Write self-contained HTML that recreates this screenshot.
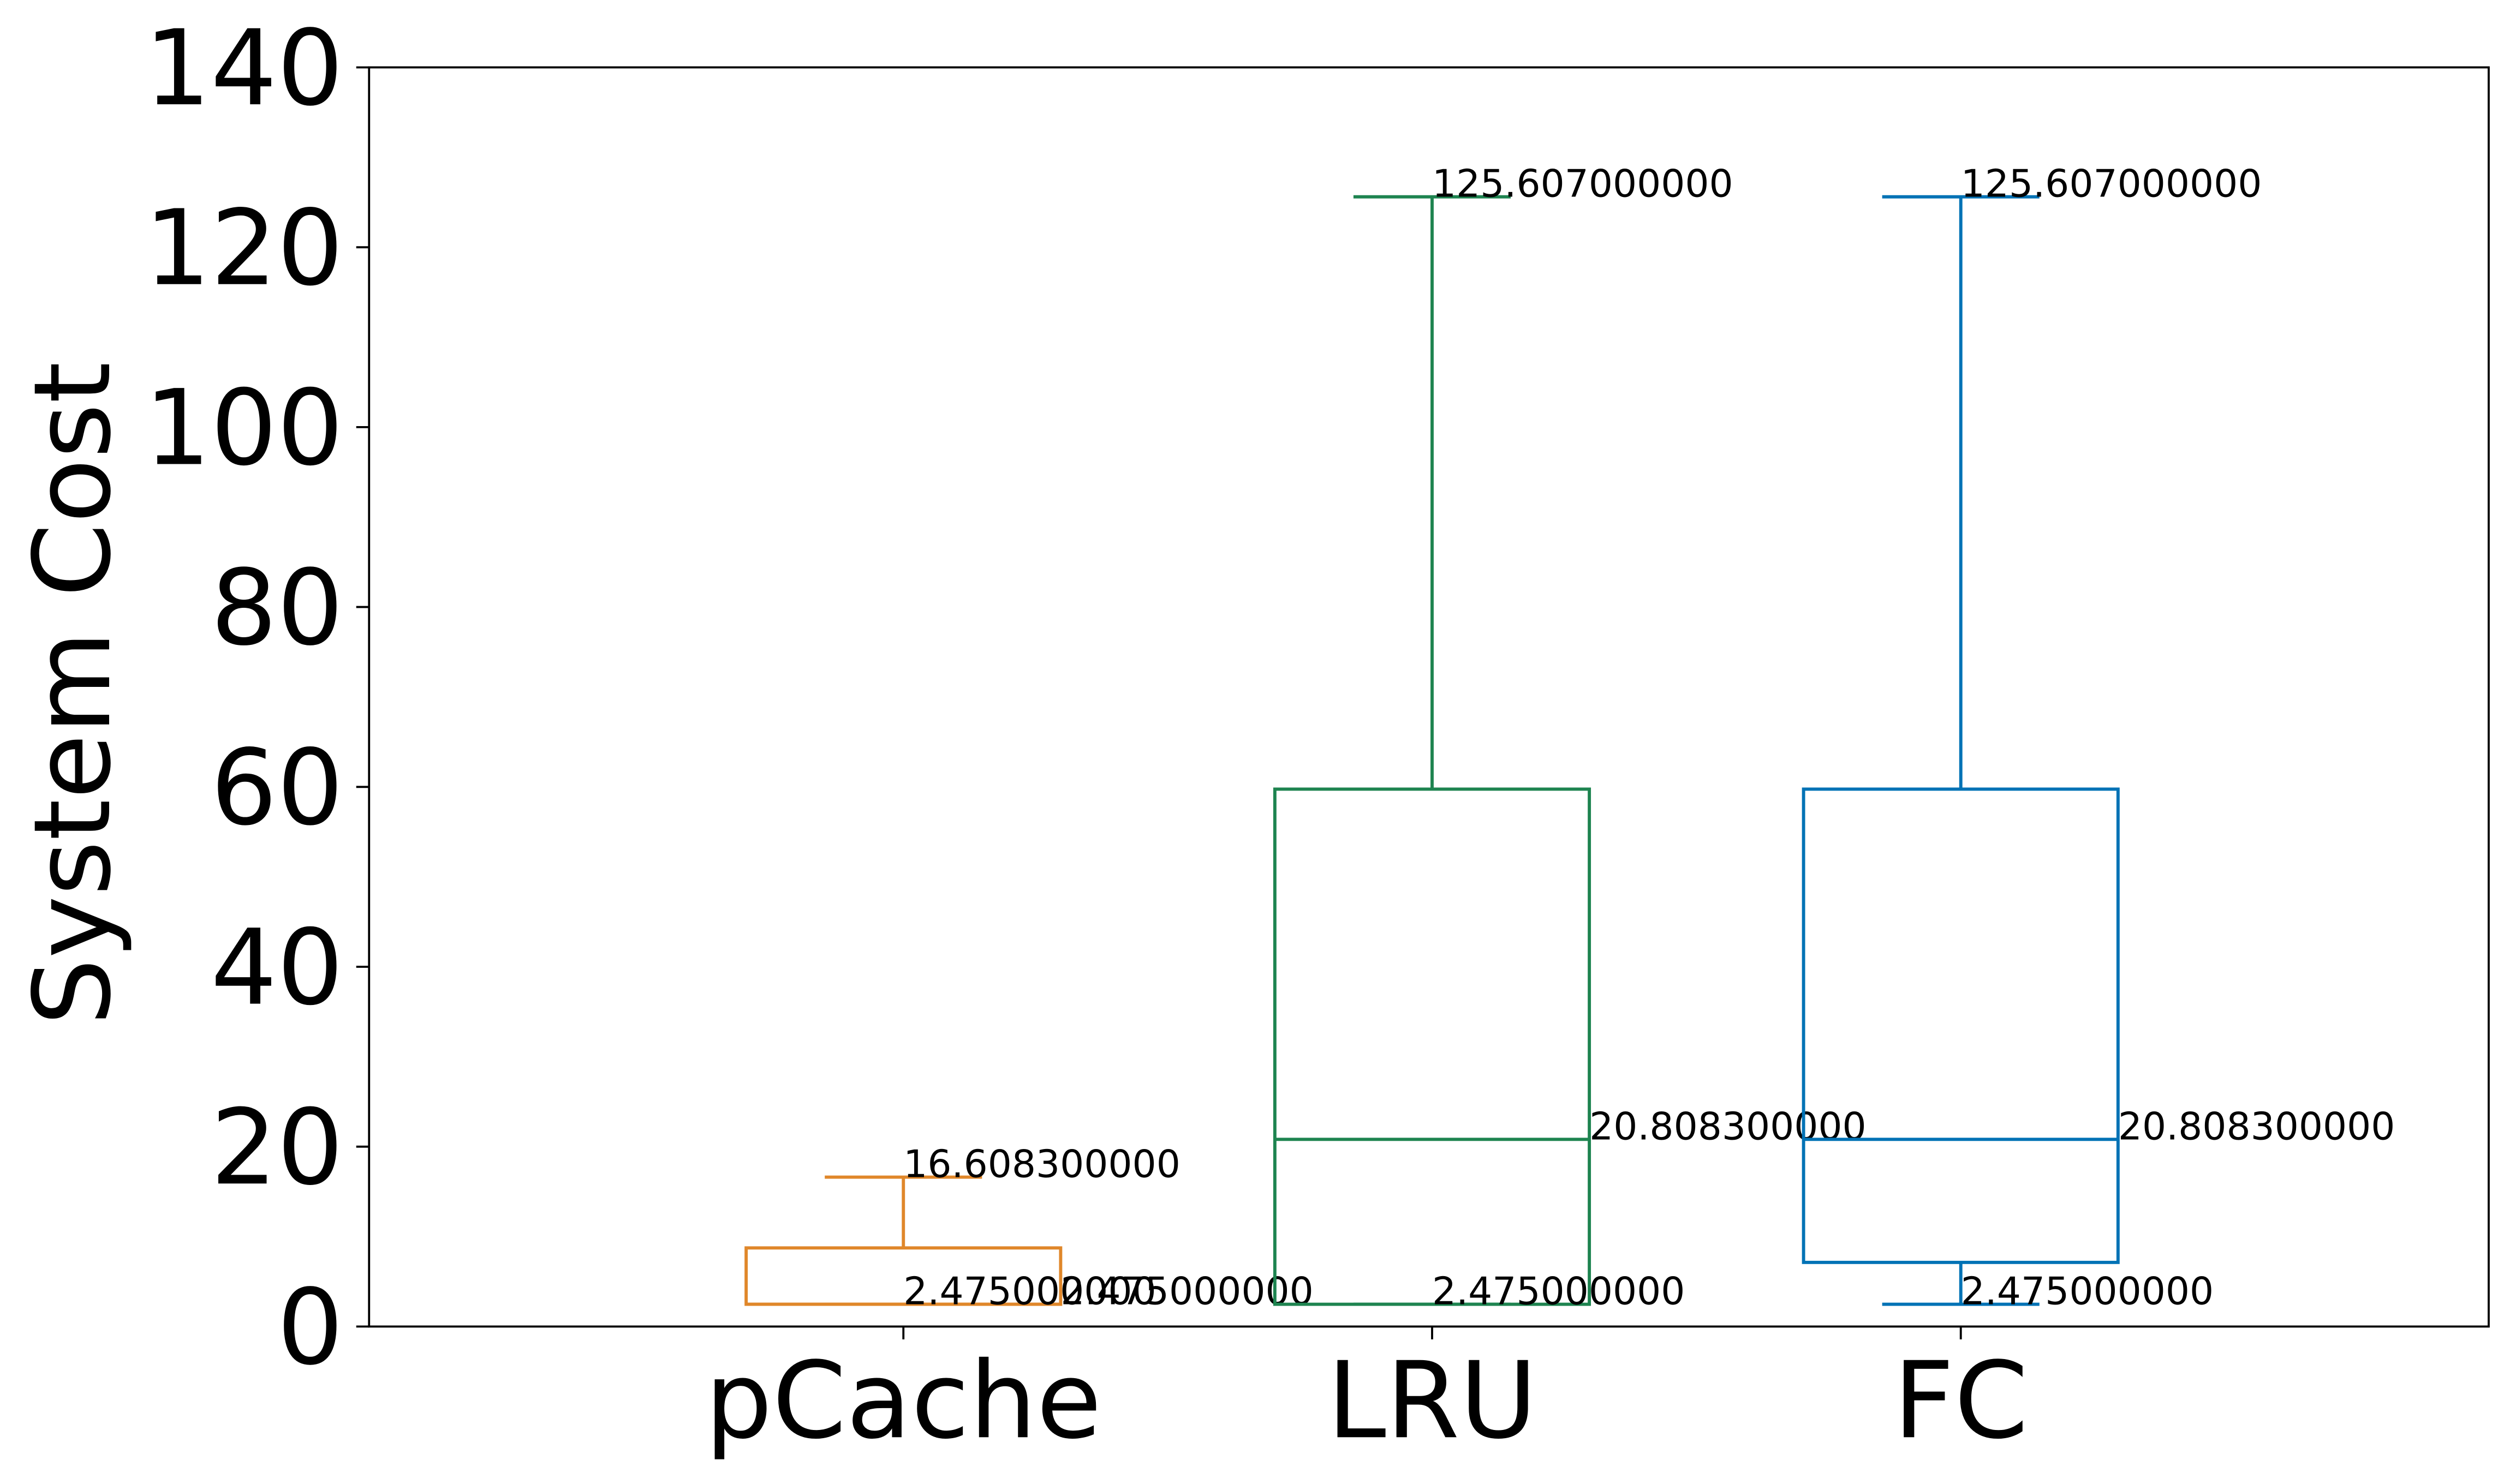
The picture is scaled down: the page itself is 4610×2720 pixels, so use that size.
<!DOCTYPE html>
<html><head><meta charset="utf-8">
<style>html,body{margin:0;padding:0;background:#fff;}svg{display:block;}</style>
</head><body>
<svg id="chart" width="4610" height="2720" viewBox="0 0 1568 925.17" xmlns="http://www.w3.org/2000/svg" font-family="'DejaVu Sans','Liberation Sans',sans-serif">
<rect width="1568" height="925.17" fill="#fff"/>
<g id="plot"></g>
</svg>
<script>
const categories = ["pCache", "LRU", "FC"];
const whiskerLow = [2.475, 2.475, 2.475];
const q1Values = [2.475, 2.475, 7.13];
const medianValues = [2.475, 20.8083, 20.8083];
const q3Values = [8.74, 59.75, 59.75];
const whiskerHigh = [16.6083, 125.607, 125.607];
const lowLabels = ["2.475000000", "2.475000000", "2.475000000"];
const medianLabels = ["2.475000000", "20.808300000", "20.808300000"];
const highLabels = ["16.608300000", "125.607000000", "125.607000000"];
const colors = ["#E0872A", "#1E8450", "#0072B5"];
const yTicks = [0, 20, 40, 60, 80, 100, 120, 140];

const NS = "http://www.w3.org/2000/svg";
const L = 230, R = 1551, T = 42, B = 827;
const yMin = 0, yMax = 140;
const y = v => B - (v - yMin) / (yMax - yMin) * (B - T);
const cx = i => 563 + i * 329.5;
const boxW = 196;
const g = document.getElementById("plot");

function mk(tag, attrs) {
  const e = document.createElementNS(NS, tag);
  for (const k in attrs) e.setAttribute(k, attrs[k]);
  g.appendChild(e);
  return e;
}

categories.forEach((c, i) => {
  const col = colors[i], xc = cx(i);
  const st = {stroke: col, "stroke-width": 2, fill: "none"};
  const box = mk("rect", Object.assign({x: xc - boxW / 2, y: y(q3Values[i]), width: boxW, height: y(q1Values[i]) - y(q3Values[i])}, st));
  
  
  const med = mk("line", Object.assign({x1: xc - boxW / 2, x2: xc + boxW / 2, y1: y(medianValues[i]), y2: y(medianValues[i])}, st));
  
  
  const wu = mk("line", Object.assign({x1: xc, x2: xc, y1: y(q3Values[i]), y2: y(whiskerHigh[i])}, st));
  
  
  const wl = mk("line", Object.assign({x1: xc, x2: xc, y1: y(q1Values[i]), y2: y(whiskerLow[i])}, st));
  
  
  const cu = mk("line", Object.assign({x1: xc - boxW / 4, x2: xc + boxW / 4, y1: y(whiskerHigh[i]), y2: y(whiskerHigh[i])}, st));
  
  
  const cl = mk("line", Object.assign({x1: xc - boxW / 4, x2: xc + boxW / 4, y1: y(whiskerLow[i]), y2: y(whiskerLow[i])}, st));
  
  
  const tH = mk("text", {x: xc, y: y(whiskerHigh[i]), "font-size": 23.6, fill: "#000"});
  tH.textContent = highLabels[i];
  
  
  const tM = mk("text", {x: xc + boxW / 2, y: y(medianValues[i]), "font-size": 23.6, fill: "#000"});
  tM.textContent = medianLabels[i];
  
  
  const tL = mk("text", {x: xc, y: y(whiskerLow[i]), "font-size": 23.6, fill: "#000"});
  tL.textContent = lowLabels[i];
  
  
  const tk = mk("line", {x1: xc, x2: xc, y1: B, y2: B + 8, stroke: "#000", "stroke-width": 1.3});
  
  
  const xl = mk("text", {x: xc, y: B + 69, "font-size": 66, "text-anchor": "middle", fill: "#000"});
  xl.textContent = c;
  
  
});

yTicks.forEach(v => {
  const tk = mk("line", {x1: L - 8, x2: L, y1: y(v), y2: y(v), stroke: "#000", "stroke-width": 1.3});
  
  
  const t = mk("text", {x: L - 16, y: y(v) + 23, "font-size": 65, "text-anchor": "end", fill: "#000"});
  t.textContent = String(v);
  
  
});

const frame = mk("rect", {x: L, y: T, width: R - L, height: B - T, fill: "none", stroke: "#000", "stroke-width": 1.3});



const yt = mk("text", {x: 0, y: 0, "font-size": 66, "text-anchor": "middle", fill: "#000", transform: "translate(68," + ((T + B) / 2 - 2) + ") rotate(-90)"});
yt.textContent = "System Cost";


</script>
</body></html>
